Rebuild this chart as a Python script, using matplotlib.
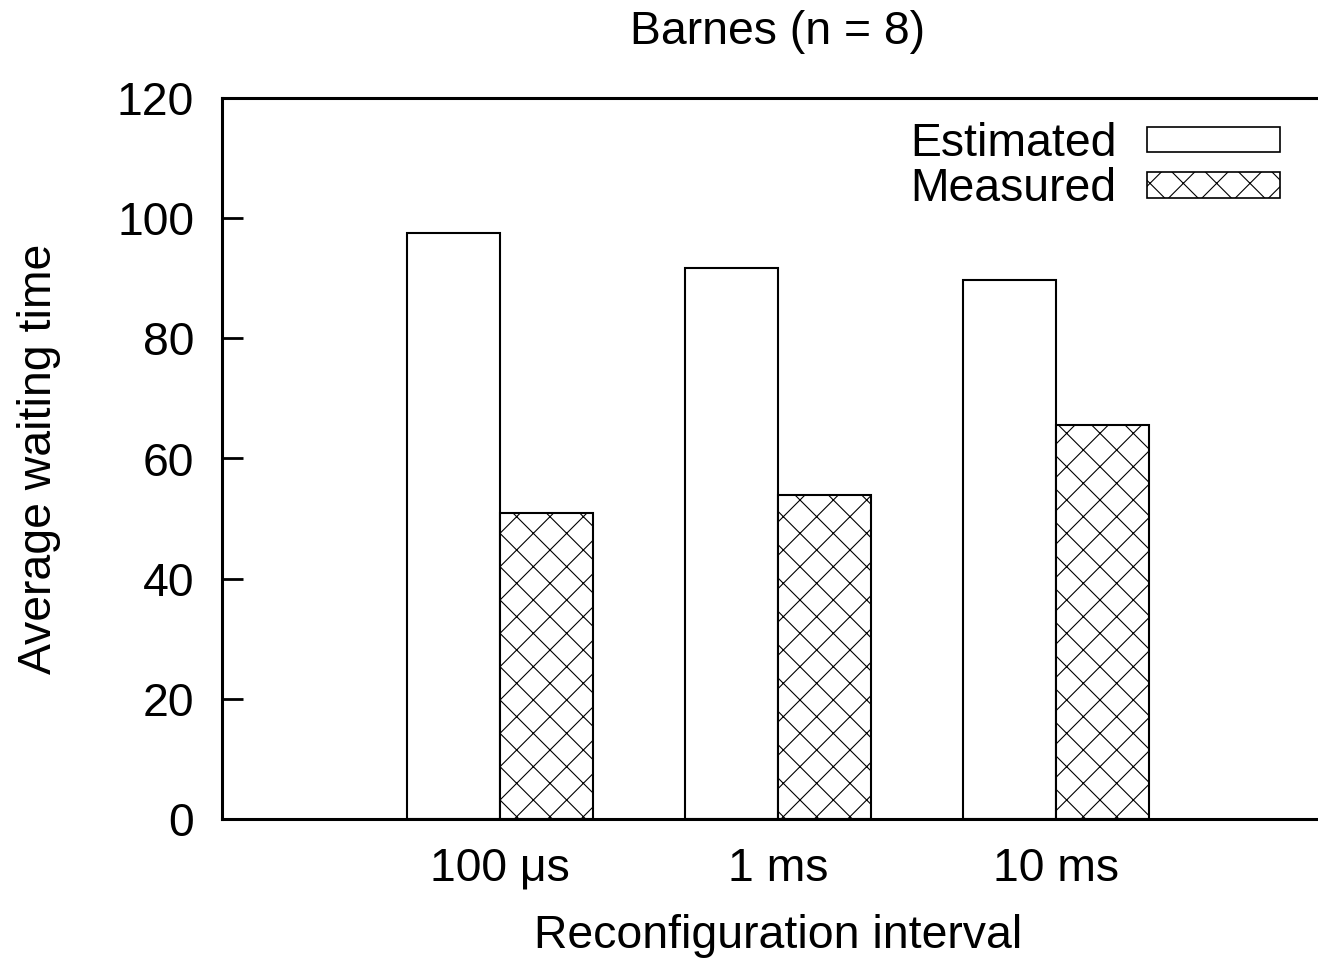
import numpy as np
import matplotlib
matplotlib.use("Agg")
import matplotlib.pyplot as plt
from matplotlib.patches import Patch

# data
intervals = ["100 \u03bcs", "1 ms", "10 ms"]
estimated = [97.6, 91.7, 89.7]
measured = [50.9, 53.9, 65.6]

plt.rcParams["font.family"] = ["Liberation Sans", "DejaVu Sans"]
plt.rcParams["hatch.linewidth"] = 0.4
plt.rcParams["hatch.color"] = "#333333"

FS = 16.7
W, H, DPI = 1318, 963, 200
fig = plt.figure(figsize=(W / DPI, H / DPI), dpi=DPI)
# axes right edge runs past the image edge, like the original
ax = fig.add_axes([222 / W, (H - 819) / H, (1334 - 222) / W, (819 - 98) / H])

x = np.arange(len(intervals))
w = 1 / 3
ax.bar(x - w / 2, estimated, w, color="white", edgecolor="black", linewidth=0.75, label="Estimated")
ax.bar(x + w / 2, measured, w, color="white", edgecolor="black", linewidth=0.75, hatch="xx", label="Measured")

ax.set_xlim(-1, 3)
ax.set_ylim(0, 120)
ax.set_yticks(range(0, 121, 20))
ax.set_xticks(x)
ax.set_xticklabels(intervals)

for side in ["left", "top", "bottom"]:
    ax.spines[side].set_linewidth(1.1)
ax.spines["right"].set_visible(False)
ax.tick_params(axis="y", direction="in", length=7.5, width=1.0, pad=10, labelsize=FS)
ax.tick_params(axis="x", length=0, pad=10, labelsize=FS)

ax.set_xlabel("Reconfiguration interval", fontsize=FS, labelpad=8.5)
ax.set_ylabel("Average waiting time", fontsize=FS, labelpad=20)
fig.text((222 + 1334) / 2 / W, 1 - 32 / H, "Barnes (n = 8)", ha="center", va="center", fontsize=FS)

handles = [Patch(facecolor="white", edgecolor="black", linewidth=0.6),
           Patch(facecolor="white", edgecolor="black", linewidth=0.6, hatch="xx")]
ax.legend(handles, ["Estimated", "Measured"], loc="upper right",
          bbox_to_anchor=(1280 / W, 1 - 122 / H), bbox_transform=fig.transFigure,
          frameon=False, fontsize=FS, markerfirst=False, borderpad=0, borderaxespad=0,
          handlelength=2.87, handleheight=0.48, handletextpad=0.65, labelspacing=0.03)

fig.savefig("out.png", dpi=DPI)
